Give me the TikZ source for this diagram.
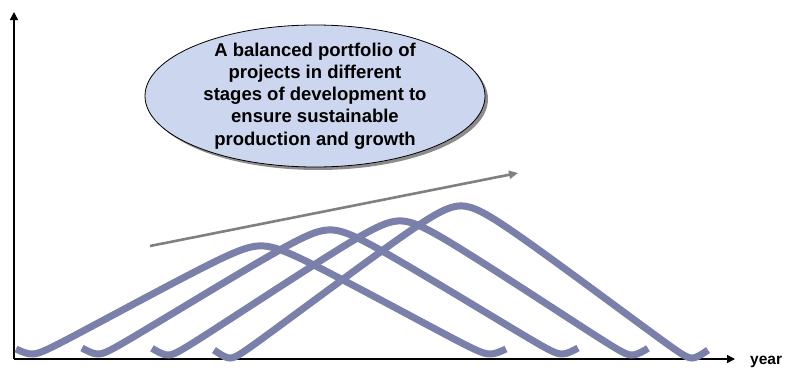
\documentclass[tikz,border=0pt]{standalone}
\usepackage{fontspec}
\setmainfont{Liberation Sans}
\usetikzlibrary{arrows.meta,shapes.geometric,shadows}
\definecolor{waveblue}{RGB}{122,128,170}
\definecolor{bubblefill}{RGB}{204,214,238}
\definecolor{trendgray}{RGB}{128,128,128}
\newcommand{\bumpwave}[4]{%
  \pgfmathsetmacro{\wslope}{(#3+5)/(#4-22)}%
  \pgfmathsetmacro{\whalf}{#4+15}%
  \draw[wave] plot[domain=-\whalf:\whalf, samples=240, variable=\xx]
    ({#1+\xx},{#2-10*(sqrt(((#3+5-\wslope*10*(sqrt((\xx/10)^2+4.84)-2.2))/10)^2+0.25)-0.5)});
}
\begin{document}
\begin{tikzpicture}[x=1pt,y=-1pt,
  axisline/.style={draw=black, line width=1.5pt, -{Triangle[length=8pt,width=8pt]}},
  wave/.style={draw=waveblue, line width=7pt},
  trend/.style={draw=trendgray, line width=2.6pt, -{Triangle[length=9pt,width=8pt]}},
  bubble/.style={ellipse, draw=black, line width=0.8pt, fill=bubblefill, inner sep=0pt,
    minimum width=340pt, minimum height=142pt,
    drop shadow={shadow xshift=3pt, shadow yshift=-3pt, fill=black!45, opacity=1}},
  bubbletext/.style={align=center, inner sep=0pt, font=\fontsize{18.5}{22.2}\selectfont\bfseries},
  axislabel/.style={inner sep=0pt, font=\fontsize{15.5}{18}\selectfont\bfseries}
]
\useasboundingbox (0,0) rectangle (789,372);
% axes
\coordinate (origin) at (14,359);
\coordinate (ytop) at (14,12);
\coordinate (xend) at (735,359);
\draw[axisline] (origin) -- (ytop);
\draw[axisline] (origin) -- (xend);
\node[axislabel, anchor=base west] (year) at (750,364) {year};
% project waves
\bumpwave{261}{354}{108}{230}
\bumpwave{330}{354}{124}{233}
\bumpwave{400}{355}{134}{233}
\bumpwave{461}{358}{152}{232}
% trend arrow
\coordinate (trendstart) at (150,246);
\coordinate (trendend) at (518,173);
\draw[trend] (trendstart) -- (trendend);
% bubble
\node[bubble] (bubble) at (315,96) {};
\node[bubbletext] (bubbletext) at (bubble.center) {A balanced portfolio of\\projects in different\\stages of development to\\ensure sustainable\\production and growth};
\end{tikzpicture}
\end{document}
